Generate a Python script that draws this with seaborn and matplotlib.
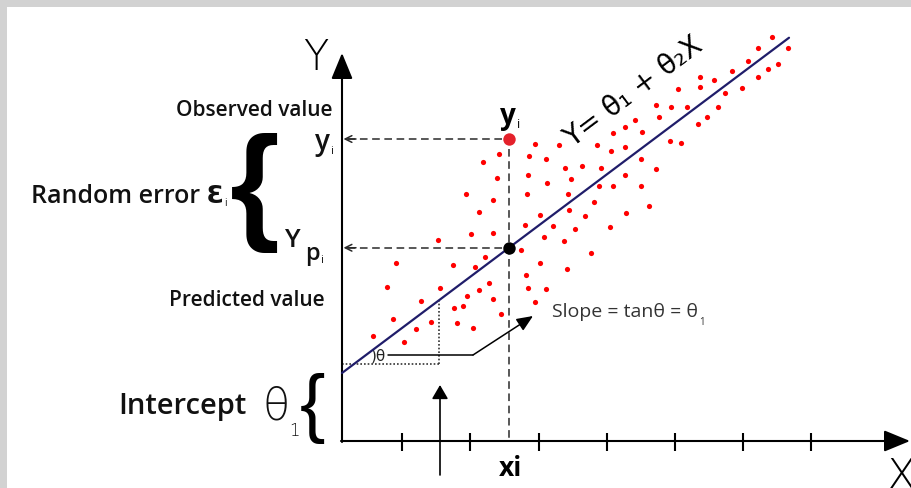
import matplotlib
matplotlib.use("Agg")
import numpy as np
import pandas as pd
import seaborn as sns
import matplotlib.pyplot as plt
from matplotlib.patches import Rectangle

# ---------------- data ----------------
dot_x = [43.0, 44.6, 41.6, 40.6, 43.6, 42.6, 41.6, 39.0, 40.0, 38.3,
         35.8, 37.2, 35.8, 33.6, 37.6, 36.5, 35.6, 31.4, 32.9, 34.5,
         31.7, 29.3, 28.3, 30.0, 27.1, 32.8, 33.9, 25.5, 28.3, 26.9,
         21.7, 19.3, 15.7, 14.1, 18.7, 20.4, 29.9, 22.3, 24.0, 25.9,
         31.4, 15.5, 18.6, 22.9, 28.3, 20.5, 25.7, 27.1, 29.9, 12.4,
         18.5, 22.6, 15.1, 25.2, 30.7, 13.7, 19.8, 22.7, 24.3, 28.4,
         18.3, 21.1, 23.3, 26.8, 12.9, 15.1, 20.2, 22.2, 9.6, 17.9,
         24.9, 14.3, 5.4, 11.1, 13.3, 19.8, 22.5, 18.4, 4.5, 9.8,
         14.7, 13.7, 18.6, 20.4, 12.5, 7.9, 15.1, 19.3, 11.2, 12.1,
         5.1, 8.9, 15.9, 11.5, 13.1, 7.4, 3.1, 6.2]
dot_y = [40.4, 39.3, 39.3, 38.0, 37.7, 37.2, 36.4, 37.0, 35.3, 34.8,
         36.4, 36.1, 35.4, 35.2, 33.4, 32.4, 31.7, 33.6, 33.4, 33.4,
         32.4, 32.1, 31.4, 30.9, 30.8, 30.0, 29.8, 29.6, 29.4, 29.0,
         29.6, 29.7, 28.7, 27.9, 28.5, 28.2, 28.2, 27.3, 27.5, 27.3,
         27.2, 26.3, 26.6, 26.2, 26.6, 25.8, 25.5, 25.5, 25.5, 24.7,
         24.7, 24.7, 24.1, 23.9, 23.5, 22.9, 22.6, 23.1, 22.5, 22.8,
         21.6, 21.5, 21.2, 21.4, 20.7, 20.8, 20.4, 20.0, 20.1, 19.1,
         18.8, 18.4, 17.8, 17.6, 17.4, 17.8, 17.2, 16.6, 15.4, 15.3,
         15.8, 15.1, 15.3, 15.2, 14.5, 14.0, 14.2, 13.9, 13.3, 13.5,
         12.2, 11.9, 12.7, 11.8, 11.3, 11.2, 10.5, 9.9]

theta1 = 6.8            # intercept
theta2 = 0.75           # slope
line_x = [0.0, 44.7]    # extent of the fitted line
x_i = 16.7              # highlighted sample
y_i = 30.2              # observed value
tick_pos = [6.0, 12.8, 19.7, 26.5, 33.3, 40.1, 46.9]
theta_foot_x = 9.7      # foot of the slope triangle

# ---------------- figure ----------------
sns.set_theme(style="white")
plt.rcParams["font.family"] = ["Open Sans", "DejaVu Sans"]

fig = plt.figure(figsize=(9.12, 4.88), dpi=100)
ax = fig.add_axes([0, 0, 1, 1])

line_df = pd.DataFrame({"x": line_x})
line_df["y"] = theta1 + theta2 * line_df["x"]
y_pred = theta1 + theta2 * x_i

sns.scatterplot(x=dot_x, y=dot_y, color="#ff0000", s=14, linewidth=0, ax=ax, zorder=3)
sns.lineplot(data=line_df, x="x", y="y", color="#201d6a", lw=1.6, ax=ax, zorder=4)
sns.scatterplot(x=[x_i], y=[y_i], color="#e4212b", s=80, linewidth=0, ax=ax, zorder=5)
sns.scatterplot(x=[x_i], y=[y_pred], color="#000000", s=80, linewidth=0, ax=ax, zorder=5)

ax.set_xlim(-34.2, 57.0)
ax.set_ylim(-4.7, 44.1)
ax.axis("off")

# grey decorative border strips
ax.add_patch(Rectangle((-34.2, 43.4), 91.2, 0.7, color="#d2d2d2", lw=0, zorder=0))
ax.add_patch(Rectangle((-34.2, -4.7), 0.7, 48.8, color="#d2d2d2", lw=0, zorder=0))

# axes with arrows
ax.annotate("", xy=(0, 38.8), xytext=(0, -0.1),
            arrowprops=dict(arrowstyle="-|>,head_length=0.8,head_width=0.33",
                            color="black", lw=1.5, mutation_scale=20, shrinkA=0, shrinkB=0))
ax.annotate("", xy=(56.8, 0), xytext=(-0.1, 0),
            arrowprops=dict(arrowstyle="-|>,head_length=0.8,head_width=0.33",
                            color="black", lw=1.5, mutation_scale=20, shrinkA=0, shrinkB=0))
ax.vlines(tick_pos, -1.0, 0.8, color="black", lw=1.5)

# dashed guide lines
dash = (0, (5, 3))
ax.plot([x_i - 0.7, 0.4], [y_i, y_i], color="#2a2a2a", lw=1.1, ls=dash)
ax.plot([x_i - 0.7, 0.4], [y_pred, y_pred], color="#2a2a2a", lw=1.1, ls=dash)
ax.plot([x_i, x_i], [y_i - 1.0, -0.1], color="#2a2a2a", lw=1.1, ls=dash)
for yy in (y_i, y_pred):
    ax.annotate("", xy=(0.15, yy), xytext=(1.4, yy),
                arrowprops=dict(arrowstyle="->", color="#2a2a2a", lw=1.1,
                                mutation_scale=12, shrinkA=0, shrinkB=0))

# slope triangle (dotted)
ax.plot([0, theta_foot_x], [7.67, 7.67], color="#333333", lw=1.2, ls=(0, (1, 1.2)))
ax.plot([theta_foot_x, theta_foot_x], [7.67, theta1 + theta2 * theta_foot_x],
        color="#333333", lw=1.2, ls=(0, (1, 1.2)))
ax.text(2.9, 8.5, ")θ", fontsize=11, ha="left", va="center", color="#222222",
        family=["DejaVu Sans"])
ax.plot([4.6, 13.1], [8.6, 8.6], color="black", lw=1.1)
ax.annotate("", xy=(19.1, 12.5), xytext=(13.1, 8.6),
            arrowprops=dict(arrowstyle="-|>,head_length=0.7,head_width=0.3",
                            color="black", lw=1.1, mutation_scale=14, shrinkA=0, shrinkB=0))
slope_t = ax.text(21.0, 12.9, "Slope = tanθ = θ", fontsize=14, ha="left", va="center",
                  color="#333333")
ax.annotate("1", xy=(1, 0), xycoords=slope_t, xytext=(0.5, -3), textcoords="offset points",
            fontsize=7, ha="left", va="baseline", color="#333333")

# vertical pointer arrow at the bottom
ax.annotate("", xy=(9.8, 5.6), xytext=(9.8, -3.4),
            arrowprops=dict(arrowstyle="-|>,head_length=0.6,head_width=0.35",
                            color="black", lw=1.2, mutation_scale=14, shrinkA=0, shrinkB=0))

# axis labels
ax.text(-2.6, 38.3, "Y", fontsize=30, ha="center", va="center", color="black",
        fontweight="light", family=["DejaVu Sans"])
ax.text(55.9, -1.5, "X", fontsize=31, ha="center", va="top", color="black",
        fontweight="light", family=["DejaVu Sans"])
ax.text(16.9, -3.5, "xi", fontsize=19, ha="center", va="baseline", fontweight="bold",
        color="black")

# y_i above observed point
yt = ax.text(16.6, 31.7, "y", fontsize=20, ha="center", va="baseline",
             fontweight="bold", color="black")
ax.annotate("i", xy=(1, 0), xycoords=yt, xytext=(0.5, 0), textcoords="offset points",
            fontsize=9, ha="left", va="bottom", color="black")

# regression equation along the line
ax.text(29.1, 34.9, "Y= θ₁ + θ₂X", fontsize=20, ha="center", va="center",
        rotation=np.degrees(np.arctan(theta2)), rotation_mode="anchor",
        color="black", family=["DejaVu Sans"])

# left annotations
ax.text(-0.9, 33.0, "Observed value", fontsize=15, ha="right", va="center",
        fontweight="semibold", color="#111111")
ylt = ax.text(-1.2, 29.1, "y", fontsize=20, ha="right", va="baseline",
              fontweight="semibold", color="#111111")
ax.annotate("i", xy=(1, 0), xycoords=ylt, xytext=(0.3, 0), textcoords="offset points",
            fontsize=8, ha="left", va="bottom", color="#111111")

ret = ax.text(-11.8, 23.8, "Random error Ɛ", fontsize=18, ha="right", va="baseline",
              fontweight="semibold", color="#111111", family=["Open Sans", "DejaVu Sans"])
ax.annotate("i", xy=(1, 0), xycoords=ret, xytext=(0.3, 0), textcoords="offset points",
            fontsize=7, ha="left", va="bottom", color="#111111")
ax.text(-8.7, 24.8, "{", fontsize=92, ha="center", va="center", fontweight="bold",
        color="black", family=["Liberation Sans"])

Yt = ax.text(-5.7, 19.4, "Y", fontsize=19, ha="left", va="baseline",
             fontweight="semibold", color="#111111")
pt = ax.text(-3.7, 18.1, "p", fontsize=17, ha="left", va="baseline",
             fontweight="semibold", color="#111111")
ax.annotate("i", xy=(1, 0), xycoords=pt, xytext=(0.3, 0), textcoords="offset points",
            fontsize=8, ha="left", va="bottom", color="#111111")

ax.text(-1.7, 14.1, "Predicted value", fontsize=15, ha="right", va="center",
        fontweight="semibold", color="#111111")

ax.text(-22.4, 2.7, "Intercept", fontsize=21, ha="left", va="baseline",
        fontweight="semibold", color="#111111")
ax.text(-7.9, 2.1, "θ", fontsize=32, ha="left", va="baseline",
        fontweight="light", color="#111111", family=["DejaVu Sans"])
ax.text(-5.3, 0.55, "1", fontsize=12, ha="left", va="baseline", color="#111111",
        family=["DejaVu Sans"], fontweight="light")
ax.text(-2.9, 3.3, "{", fontsize=55, ha="center", va="center", fontweight="normal",
        color="black", family=["Liberation Sans"])

fig.savefig("out.png", dpi=100)
